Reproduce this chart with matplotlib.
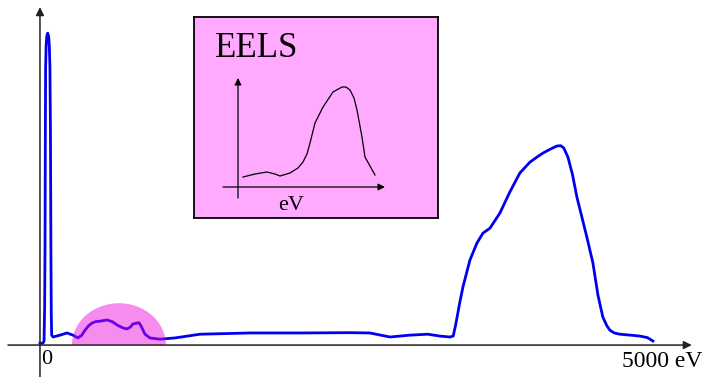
"""
EELS schematic: energy-loss spectrum with zero-loss peak, low-loss
region (highlighted) and a core-loss edge, plus an inset sketch.
"""

import matplotlib
matplotlib.use("Agg")
import matplotlib.pyplot as plt
from matplotlib.patches import Ellipse, Rectangle

# ---------------------------------------------------------------------------
# Data (energy loss in eV, intensity in arbitrary units)
# ---------------------------------------------------------------------------
energy = [0, 24, 33, 38, 41, 44, 46, 50, 55, 63, 71, 76, 81, 85, 89, 92, 95,
          106, 163, 220, 268, 309, 340, 366, 395, 423, 455, 488, 545, 590,
          626, 670, 707, 735, 756, 789, 805, 820, 854, 894, 976, 1098,
          1301, 1707, 2114, 2520, 2683, 2846, 3008, 3154, 3252, 3333, 3360,
          3380, 3410, 3439, 3496, 3553, 3602, 3659, 3740, 3821, 3902, 3984,
          4040, 4089, 4150, 4203, 4235, 4260, 4293, 4330, 4366, 4447, 4496,
          4537, 4577, 4610, 4634, 4670, 4715, 4800, 4878, 4940, 4984]
intensity = [0.6, 0.6, 1.3, 12.0, 30.6, 70.0, 89.7, 96.5, 99.5, 100.6, 99.5,
             96.5, 89.7, 70.0, 30.6, 10.0, 3.2, 2.6, 3.2, 3.9, 3.2, 2.3, 3.2,
             4.8, 6.2, 7.1, 7.6, 7.7, 8.1, 7.5, 6.5, 5.6, 5.2, 5.8, 6.8, 7.1,
             7.2, 6.3, 3.5, 2.3, 1.9, 2.3, 3.5, 3.9, 3.9, 4.0, 3.9, 2.6, 3.2,
             3.5, 2.9, 2.6, 2.9, 6.5, 13.0, 18.7, 27.4, 32.9, 36.1, 37.7,
             42.6, 49.4, 55.5, 59.0, 60.6, 61.9, 63.2, 64.2, 64.3, 63.5,
             60.6, 55.0, 47.7, 34.8, 26.5, 16.1, 9.0, 6.2, 4.8, 3.9, 3.5,
             3.2, 2.9, 2.4, 1.3]

# low-loss region that is highlighted (centre, width, half height)
lowloss_center = 642
lowloss_width = 764
lowloss_height = 13.5

# inset sketch (arbitrary units)
inset_x = [49, 61, 73, 81, 86, 96, 104, 109, 113, 116, 121, 129, 139, 148,
           152, 156, 160, 163, 168, 171, 176, 181]
inset_y = [41, 44, 46, 44, 42, 45, 50, 56, 64, 75, 95, 111, 126, 131, 131,
           128, 120, 108, 81, 61, 52, 43]

SERIF = "Liberation Serif"

fig = plt.figure(figsize=(7.09, 3.77), dpi=100)

# ---------------------------------------------------------------------------
# Main spectrum
# ---------------------------------------------------------------------------
ax = fig.add_axes([0, 0, 1, 1])
ax.set_xlim(-325, 5440)
ax.set_ylim(-10.3, 111.3)
ax.axis("off")

ax.plot(energy, intensity, color="#0000ee", lw=2.0, solid_joinstyle="round",
        zorder=2)

ell = Ellipse((lowloss_center, 0), lowloss_width, 2 * lowloss_height,
              facecolor="#ee00dd", alpha=0.45, edgecolor="none", zorder=3)
ax.add_patch(ell)
ell.set_clip_path(Rectangle((-1000, 0), 10000, 200, transform=ax.transData))

arrow = dict(arrowstyle="-|>", color="#222222", lw=1.1,
             shrinkA=0, shrinkB=0, mutation_scale=12)
ax.annotate("", xy=(5300, 0), xytext=(-260, 0), arrowprops=arrow, zorder=4)
ax.annotate("", xy=(0, 109), xytext=(0, -10.3), arrowprops=arrow, zorder=4)

ax.text(57, -1.6, "0", family=SERIF, fontsize=16, ha="center", va="top")
ax.text(4730, -1.8, "5000 eV", family=SERIF, fontsize=17, ha="left",
        va="top")

# ---------------------------------------------------------------------------
# Inset
# ---------------------------------------------------------------------------
ins = fig.add_axes([194 / 709, 159 / 377, 244 / 709, 201 / 377])
ins.set_facecolor("#ffaaff")
ins.set_xlim(0, 244)
ins.set_ylim(0, 201)
ins.set_xticks([])
ins.set_yticks([])
for s in ins.spines.values():
    s.set_linewidth(1.3)
    s.set_color("black")

small_arrow = dict(arrowstyle="-|>", color="black", lw=0.9,
                   shrinkA=0, shrinkB=0, mutation_scale=10)
ins.annotate("", xy=(191, 31), xytext=(29, 31), arrowprops=small_arrow)
ins.annotate("", xy=(44, 140), xytext=(44, 20), arrowprops=small_arrow)
ins.plot(inset_x, inset_y, color="black", lw=0.9, solid_joinstyle="round")

ins.text(21, 161, "EELS", family=SERIF, fontsize=25, ha="left",
         va="baseline")
ins.text(97, 8, "eV", family=SERIF, fontsize=16, ha="center", va="baseline")

fig.savefig("out.png", dpi=100)
